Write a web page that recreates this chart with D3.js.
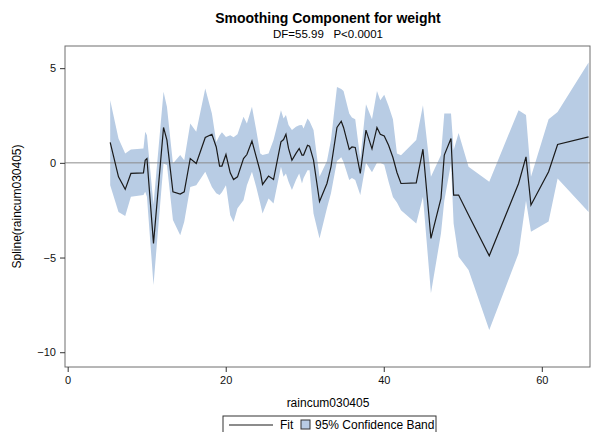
<!DOCTYPE html>
<html>
<head>
<meta charset="utf-8">
<script src="https://cdn.jsdelivr.net/npm/d3@7"></script>
<style>
  body { margin: 0; background: #fff; }
  text { font-family: Arial, "Liberation Sans", sans-serif; }
</style>
</head>
<body>
<script>
// Values
var rain = [5.38, 6.43, 7.28, 8.00, 9.59, 9.81, 10.03, 10.86, 12.13, 12.56, 13.32, 14.24, 14.75, 15.51, 16.27,
  17.41, 18.25, 18.80, 19.22, 19.52, 20.03, 20.57, 20.99, 21.49, 22.25, 22.68, 23.32, 23.86, 24.37, 24.66,
  25.42, 26.05, 26.99, 27.32, 27.62, 27.95, 28.38, 28.89, 29.30, 29.65, 29.85, 30.35, 30.61, 31.11, 31.87,
  32.81, 33.32, 34.08, 34.62, 34.91, 35.63, 35.97, 36.39, 37.03, 37.75, 38.51, 39.14, 39.56, 40.06, 40.61,
  41.16, 41.67, 42.18, 44.11, 44.96, 45.97, 47.24, 47.66, 48.51, 48.84, 49.47, 50.73, 53.35, 57.06, 58.00,
  58.63, 60.86, 62.00, 65.92];
var fit = [1.08, -0.74, -1.40, -0.56, -0.53, 0.14, 0.23, -4.25, 1.87, 1.20, -1.53, -1.65, -1.53, 0.23, -0.03,
  1.34, 1.51, 0.84, -0.17, -0.17, 0.44, -0.53, -0.88, -0.74, 0.23, 0.44, 1.15, 0.32, -0.47, -1.14,
  -0.70, -0.88, 1.11, 1.23, 1.51, 0.76, 0.14, 0.50, 0.76, 0.41, 0.41, 0.93, 0.88, 0.14, -2.04,
  -1.09, -0.21, 1.87, 2.20, 1.87, 0.71, 0.84, 0.81, -0.56, 1.73, 0.74, 1.87, 1.51, 1.42, 0.93,
  0.28, -0.51, -1.09, -1.06, 0.72, -3.99, -1.88, 0.41, 1.29, -1.70, -1.70, -2.75, -4.91, -1.09, 0.32,
  -2.23, -0.47, 0.97, 1.37];
var upper = [3.31, 1.29, 0.50, 0.71, 0.76, 1.64, 1.46, -2.2, 3.75, 2.96, -0.03, 0.41, 0.14, 2.08, 1.64,
  3.93, 2.6, 1.1, 1.45, 1.62, 1.36, 1.46, 1.35, 1.51, 2.43, 2.08, 2.96, 1.73, 0.50, 0.41,
  0.50, 1.20, 2.78, 2.34, 2.52, 2.0, 1.73, 1.9, 1.99, 2.0, 1.82, 2.34, 2.2, 1.73, -0.74,
  0.1, 1.2, 4.0, 3.9, 3.8, 2.6, 2.4, 2.3, 0.2, 3.1, 2.3, 3.8, 3.3, 3.6, 3.0,
  2.3, 0.5, 0.4, 1.2, 3.04, -0.74, 0.41, 2.61, 2.61, 0.67, 1.58, -0.21, -1.0, 2.78, 2.52,
  -0.74, 2.3, 2.69, 5.3];
var lower = [-1.18, -2.59, -2.81, -1.79, -1.70, -1.53, -1.79, -6.45, -0.03, -0.12, -3.02, -3.82, -3.11, -1.27, -1.18,
  -0.47, -1.27, -1.61, -1.70, -1.55, -1.18, -2.77, -3.13, -2.4, -1.97, -1.18, -0.47, -1.27, -2.14, -2.67,
  -1.88, -2.14, -0.21, -0.74, -0.56, -1.0, -1.44, -0.91, -0.56, -1.09, -0.8, -0.39, -0.39, -2.68, -3.99,
  -2.4, -1.6, 0.1, 0.3, 0.05, -0.9, -0.8, -0.9, -1.7, 0.0, -0.5, 0.0, 0.0, -0.1, -1.0,
  -1.8, -2.1, -2.5, -3.2, -1.79, -6.89, -3.73, -2.0, -0.03, -3.2, -4.96, -5.66, -8.83, -4.78, -2.0,
  -3.64, -3.1, -0.82, -2.59];
var xTicks = [0, 20, 40, 60];
var yTicks = [5, 0, -5, -10];

var width = 591,
  height = 432;

var margin = { top: 46, right: 1, bottom: 65, left: 65 };

var svg = d3.select('body')
  .append('svg')
  .attr('width', width)
  .attr('height', height);

var x = d3.scaleLinear()
  .domain([-0.34, 66.1])
  .range([margin.left, width - margin.right]);

var y = d3.scaleLinear()
  .domain([-10.78, 6.17])
  .range([height - margin.bottom, margin.top]);

var data = rain.map(function(r, i) {
  return { x: r, fit: fit[i], up: upper[i], lo: lower[i] };
});

// confidence band
var band = d3.area()
  .x(function(d) { return x(d.x); })
  .y0(function(d) { return y(d.lo); })
  .y1(function(d) { return y(d.up); });

svg.append('path')
  .datum(data)
  .attr('fill', '#b8cce4')
  .attr('d', band);

// zero reference line
svg.append('line')
  .attr('x1', x.range()[0])
  .attr('x2', x.range()[1])
  .attr('y1', y(0))
  .attr('y2', y(0))
  .attr('stroke', '#8c8c8c')
  .attr('stroke-width', 1);

// fit line
var line = d3.line()
  .x(function(d) { return x(d.x); })
  .y(function(d) { return y(d.fit); });

svg.append('path')
  .datum(data)
  .attr('fill', 'none')
  .attr('stroke', '#1a1a1a')
  .attr('stroke-width', 1.2)
  .attr('d', line);

// frame
svg.append('rect')
  .attr('x', x.range()[0])
  .attr('y', y.range()[1])
  .attr('width', x.range()[1] - x.range()[0])
  .attr('height', y.range()[0] - y.range()[1])
  .attr('fill', 'none')
  .attr('stroke', '#6e6e6e')
  .attr('stroke-width', 1);

// axes
var xAxis = svg.append('g')
  .attr('transform', 'translate(0,' + (height - margin.bottom) + ')')
  .call(d3.axisBottom(x).tickValues(xTicks).tickSize(5).tickPadding(4));

var yAxis = svg.append('g')
  .attr('transform', 'translate(' + margin.left + ',0)')
  .call(d3.axisLeft(y).tickValues(yTicks).tickSize(5).tickPadding(4));

[xAxis, yAxis].forEach(function(a) {
  a.select('.domain').remove();
  a.selectAll('line').attr('stroke', '#333');
  a.selectAll('text')
    .attr('fill', '#111')
    .style('font-size', '11px')
    .style('font-family', 'Arial, "Liberation Sans", sans-serif');
});

// titles
svg.append('text')
  .attr('x', 328)
  .attr('y', 23)
  .attr('text-anchor', 'middle')
  .style('font-size', '14px')
  .style('font-weight', 'bold')
  .text('Smoothing Component for weight');

svg.append('text')
  .attr('x', 328)
  .attr('y', 38)
  .attr('text-anchor', 'middle')
  .style('font-size', '11.5px')
  .attr('xml:space', 'preserve')
  .text('DF=55.99   P<0.0001');

svg.append('text')
  .attr('x', 328)
  .attr('y', 407)
  .attr('text-anchor', 'middle')
  .style('font-size', '12px')
  .text('raincum030405');

svg.append('text')
  .attr('transform', 'translate(21,' + ((y.range()[0] + y.range()[1]) / 2) + ') rotate(-90)')
  .attr('text-anchor', 'middle')
  .style('font-size', '12px')
  .text('Spline(raincum030405)');

// legend
var legend = svg.append('g').attr('transform', 'translate(223,416)');

legend.append('rect')
  .attr('width', 213)
  .attr('height', 20)
  .attr('fill', '#fff')
  .attr('stroke', '#333');

legend.append('line')
  .attr('x1', 6).attr('x2', 50)
  .attr('y1', 9).attr('y2', 9)
  .attr('stroke', '#1a1a1a')
  .attr('stroke-width', 1.2);

legend.append('text')
  .attr('x', 57).attr('y', 13)
  .style('font-size', '12px')
  .text('Fit');

legend.append('rect')
  .attr('x', 78).attr('y', 4)
  .attr('width', 9).attr('height', 9)
  .attr('fill', '#b8cce4')
  .attr('stroke', '#333');

legend.append('text')
  .attr('x', 92).attr('y', 13)
  .style('font-size', '12px')
  .text('95% Confidence Band');
</script>
</body>
</html>
